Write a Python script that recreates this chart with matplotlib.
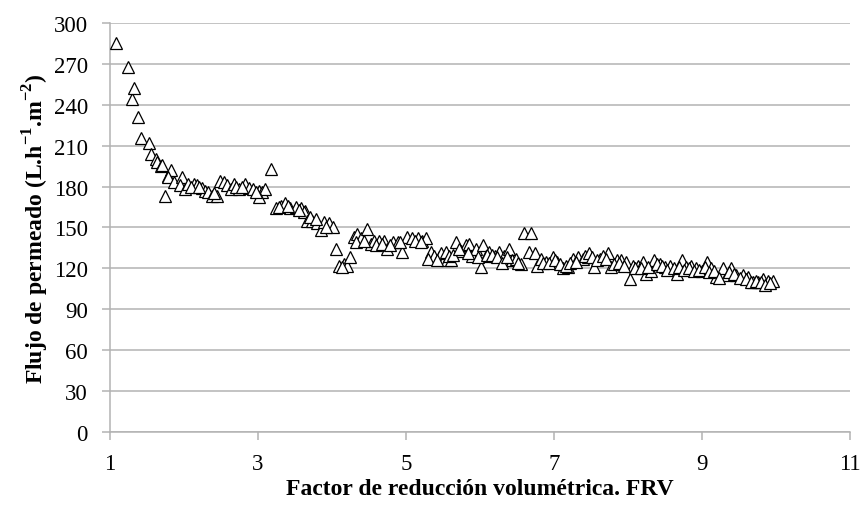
import numpy as np
import matplotlib.pyplot as plt

plt.rcParams['font.family'] = ['Liberation Serif', 'DejaVu Serif']
plt.rcParams['mathtext.fontset'] = 'custom'
plt.rcParams['mathtext.rm'] = 'Liberation Serif'
plt.rcParams['mathtext.bf'] = 'Liberation Serif:bold'

# Factor de reduccion volumetrica (FRV) and permeate flux (L.h-1.m-2)
frv = [1.08, 1.24, 1.30, 1.32, 1.38, 1.42, 1.53, 1.56, 1.62, 1.64, 1.69, 1.74, 1.79, 1.82,
       1.70, 1.78, 1.86, 1.97, 1.95, 2.02, 2.06, 2.13, 2.18, 2.24, 2.29, 2.33, 2.38, 2.45,
       2.49, 2.54, 2.58, 2.63, 2.67, 2.74, 2.83, 2.88, 2.94, 3.01, 3.06, 3.10, 3.01, 3.18,
       3.24, 3.31, 3.37, 3.44, 3.51, 3.58, 3.64, 3.62, 3.67, 3.73, 3.80, 3.85, 3.89, 3.96,
       4.01, 4.05, 4.10, 4.16, 4.21, 4.25, 4.30, 4.34, 4.39, 4.32, 4.48, 4.53, 4.57, 4.64,
       4.71, 4.75, 4.82, 4.89, 4.95, 5.02, 5.09, 5.16, 5.22, 5.27, 5.34, 5.38, 5.45, 5.52,
       5.56, 5.47, 5.54, 5.61, 5.68, 5.75, 5.81, 5.86, 5.90, 5.95, 6.02, 6.04, 6.08, 6.13,
       6.20, 6.26, 6.33, 6.40, 6.44, 6.49, 6.56, 6.60, 6.69, 6.67, 6.74, 6.78, 6.83, 6.90,
       6.99, 7.05, 7.12, 7.19, 7.26, 7.33, 7.39, 7.46, 7.42, 7.48, 7.55, 7.62, 7.73, 7.78,
       7.85, 7.91, 7.98, 8.03, 8.07, 8.14, 8.21, 8.25, 8.32, 8.36, 8.43, 8.50, 8.57, 8.66,
       8.73, 8.79, 8.86, 8.93, 9.00, 9.07, 9.13, 9.20, 9.27, 9.34, 9.29, 9.40, 9.47, 9.56,
       9.63, 9.70, 9.76, 9.83, 9.90, 9.97,
       2.10, 2.20, 2.40, 2.70, 2.78, 2.98, 3.28, 3.41, 3.55, 3.70, 3.78, 3.92, 4.14, 4.44,
       4.60, 4.68, 4.78, 4.92, 5.12, 5.20, 5.30, 5.42, 5.58, 5.64, 5.72, 5.84, 5.98, 6.10,
       6.17, 6.23, 6.30, 6.37, 6.52, 6.86, 6.94, 7.02, 7.09, 7.16, 7.22, 7.30, 7.52, 7.58,
       7.66, 7.70, 7.82, 7.88, 7.95, 8.10, 8.18, 8.28, 8.40, 8.46, 8.53, 8.62, 8.70, 8.76,
       8.83, 8.90, 8.97, 9.04, 9.10, 9.17, 9.24, 9.37, 9.44, 9.52, 9.60, 9.67, 9.73, 9.80,
       9.86, 9.93]
flujo = [285, 268, 244, 252, 231, 216, 212, 204, 200, 198, 195, 173, 188, 192,
         196, 187, 183, 187, 181, 178, 182, 182, 181, 179, 177, 176, 173, 173,
         184, 183, 181, 178, 182, 178, 182, 179, 178, 177, 176, 178, 172, 193,
         164, 166, 168, 164, 165, 164, 162, 161, 155, 155, 153, 148, 154, 153,
         150, 134, 122, 123, 122, 128, 143, 145, 142, 139, 149, 138, 140, 140,
         140, 134, 139, 139, 132, 143, 142, 142, 140, 142, 132, 129, 128, 127,
         126, 131, 132, 126, 139, 133, 137, 138, 129, 134, 121, 137, 129, 132,
         129, 132, 129, 134, 126, 127, 123, 146, 146, 132, 131, 122, 127, 125,
         128, 125, 120, 121, 127, 128, 127, 128, 129, 131, 121, 127, 131, 121,
         126, 126, 125, 112, 122, 122, 125, 116, 118, 126, 123, 121, 122, 116,
         126, 121, 122, 120, 118, 125, 120, 114, 116, 115, 120, 120, 115, 115,
         114, 110, 110, 112, 111, 111,
         180, 180, 175, 180, 180, 176, 165, 166, 163, 158, 156, 150, 121, 140,
         137, 138, 137, 139, 140, 139, 127, 126, 129, 130, 134, 131, 128, 130,
         130, 128, 124, 128, 124, 124, 124, 126, 123, 122, 124, 125, 128, 126,
         129, 127, 123, 124, 122, 120, 120, 121, 123, 122, 119, 120, 121, 119,
         120, 118, 119, 121, 117, 118, 113, 117, 116, 113, 112, 110, 111, 110,
         108, 109]

fig = plt.figure(figsize=(8.62, 5.06), dpi=100)
ax = fig.add_axes([0.1276, 0.1443, 0.858, 0.8083])

ax.plot(frv, flujo, linestyle='none', marker='^', ms=8.8, mfc='white',
        mec='black', mew=0.9, zorder=3)

grid_c = '#b3b3b3'
ax.set_xlim(1, 11)
ax.set_ylim(0, 300)
ax.set_xticks([1, 3, 5, 7, 9, 11])
ax.set_yticks(np.arange(0, 301, 30))
ax.yaxis.grid(True, color=grid_c, linewidth=1.1)
ax.set_axisbelow(True)
for s in ['top', 'right']:
    ax.spines[s].set_visible(False)
for s in ['left', 'bottom']:
    ax.spines[s].set_color(grid_c)
    ax.spines[s].set_linewidth(1.1)
ax.tick_params(axis='both', direction='out', length=6, width=1.1, color=grid_c,
               labelsize=16.5)
ax.tick_params(axis='y', pad=10)
ax.tick_params(axis='x', pad=9)

ax.set_xlabel('Factor de reducción volumétrica. FRV', fontsize=17, fontweight='bold', labelpad=3)
ax.set_ylabel(r'Flujo de permeado (L.h$^{\mathbf{-1}}$.m$^{\mathbf{-2}}$)', fontsize=17,
              fontweight='bold', labelpad=2)

plt.savefig('out.png', dpi=100)
